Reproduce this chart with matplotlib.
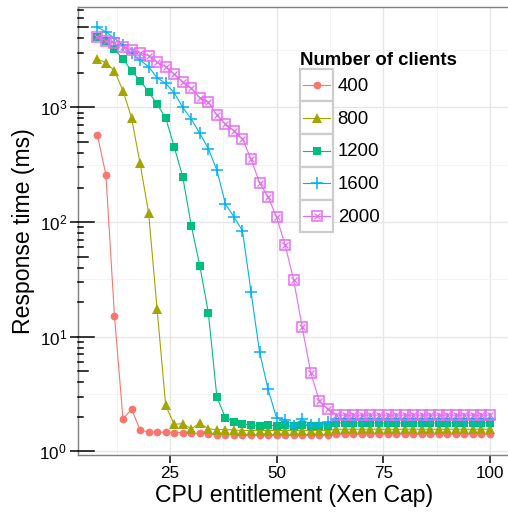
import matplotlib
matplotlib.use("Agg")
import matplotlib.pyplot as plt
from matplotlib.legend_handler import HandlerBase
from matplotlib.lines import Line2D
from matplotlib.patches import Rectangle
from matplotlib.ticker import FixedLocator, LogLocator, NullFormatter

plt.rcParams['font.family'] = ['Liberation Sans', 'DejaVu Sans']

# Datos: tiempo de respuesta (ms) vs. cap de CPU, por número de clientes
# ----------------------------------------------------------------------
cap = [8, 10, 12, 14, 16, 18, 20, 22, 24, 26, 28, 30, 32, 34, 36, 38, 40, 42, 44, 46,
       48, 50, 52, 54, 56, 58, 60, 62, 64, 66, 68, 70, 72, 74, 76, 78, 80, 82, 84, 86,
       88, 90, 92, 94, 96, 98, 100]

clientes = ['400', '800', '1200', '1600', '2000']

t400 = [573, 257, 15.2, 1.91, 2.34, 1.54, 1.47, 1.47, 1.47, 1.46, 1.46, 1.44, 1.44, 1.43,
        1.40, 1.40, 1.40, 1.40, 1.40, 1.40, 1.40, 1.40, 1.40, 1.40, 1.40, 1.40, 1.40, 1.40,
        1.41, 1.41, 1.41, 1.41, 1.41, 1.41, 1.41, 1.41, 1.41, 1.41, 1.41, 1.41, 1.41, 1.41,
        1.41, 1.41, 1.41, 1.41, 1.41]

t800 = [2640, 2450, 2085, 1395, 811, 325, 120, 17.3, 2.52, 1.72, 1.75, 1.57, 1.77, 1.57,
        1.55, 1.55, 1.54, 1.52, 1.52, 1.52, 1.52, 1.52, 1.52, 1.52, 1.52, 1.52, 1.52, 1.52,
        1.56, 1.56, 1.56, 1.56, 1.56, 1.56, 1.56, 1.56, 1.56, 1.56, 1.56, 1.56, 1.56, 1.56,
        1.56, 1.56, 1.56, 1.56, 1.56]

t1200 = [4100, 3790, 3210, 2640, 2085, 1706, 1368, 1062, 811, 453, 248, 93, 41.6, 16.2,
         2.98, 1.97, 1.80, 1.73, 1.70, 1.67, 1.69, 1.67, 1.69, 1.67, 1.69, 1.66, 1.68, 1.66,
         1.77, 1.77, 1.77, 1.77, 1.77, 1.77, 1.77, 1.77, 1.77, 1.77, 1.77, 1.77, 1.77, 1.77,
         1.77, 1.77, 1.77, 1.77, 1.77]

t1600 = [4980, 4560, 3990, 3490, 2960, 2585, 2260, 1811, 1618, 1341, 1000, 791, 593, 437,
         284, 144, 111, 84, 24.7, 7.36, 3.48, 1.95, 1.88, 1.68, 1.91, 1.70, 1.73, 1.79,
         1.93, 1.93, 1.93, 1.93, 1.93, 1.93, 1.93, 1.93, 1.93, 1.93, 1.93, 1.93, 1.93, 1.93,
         1.93, 1.93, 1.93, 1.93, 1.93]

t2000 = [4130, 3810, 3610, 3375, 3160, 2995, 2820, 2468, 2260, 1950, 1652, 1465, 1213, 1106,
         858, 716, 625, 530, 355, 220, 166, 110, 63, 31.2, 12.1, 4.86, 2.77, 2.33,
         2.07, 2.07, 2.07, 2.07, 2.07, 2.07, 2.07, 2.07, 2.07, 2.07, 2.07, 2.07, 2.07, 2.07,
         2.07, 2.07, 2.07, 2.07, 2.07]

colores = ['#F8766D', '#A3A500', '#00BF7D', '#00B0F6', '#E76BF3']
# ----------------------------------------------------------------------


# Caja gris de cada clave de la leyenda (estilo ggplot)
class CajaClave(HandlerBase):
    def create_artists(self, legend, orig_handle, xdescent, ydescent,
                       width, height, fontsize, trans):
        lineas = orig_handle if isinstance(orig_handle, tuple) else (orig_handle,)
        x0, y0 = -xdescent, -ydescent
        yc = y0 + height / 2
        caja = Rectangle((x0, y0), width, height, facecolor='white',
                         edgecolor='#cccccc', lw=1.6, transform=trans)
        base = lineas[0]
        seg = Line2D([x0 + 2, x0 + width - 2], [yc, yc], color=base.get_color(),
                     lw=base.get_linewidth(), transform=trans)
        artistas = [caja, seg]
        for l in lineas:
            artistas.append(Line2D([x0 + width / 2], [yc], linestyle='none',
                                   marker=l.get_marker(), markersize=l.get_markersize(),
                                   markerfacecolor=l.get_markerfacecolor(),
                                   markeredgecolor=l.get_markeredgecolor(),
                                   markeredgewidth=l.get_markeredgewidth(),
                                   transform=trans))
        return artistas


fig = plt.figure(figsize=(5.08, 5.12), dpi=100)
ax = fig.add_axes([0.1531, 0.1105, 0.850, 0.8758])

lw = 0.8
h400, = ax.plot(cap, t400, color=colores[0], lw=lw, marker='o', ms=5.6, mew=0)
h800, = ax.plot(cap, t800, color=colores[1], lw=lw, marker='^', ms=6.8, mew=0)
h1200, = ax.plot(cap, t1200, color=colores[2], lw=lw, marker='s', ms=6.0, mew=0)
h1600, = ax.plot(cap, t1600, color=colores[3], lw=lw, marker='+', ms=8.5, mew=1.1)
h2000, = ax.plot(cap, t2000, color=colores[4], lw=lw, marker='s', ms=6.5,
                 mfc='none', mec=colores[4], mew=1.1)
h2000x, = ax.plot(cap, t2000, linestyle='none', marker='x', ms=4.4,
                  mec=colores[4], mew=0.9)

# Ejes
ax.set_yscale('log')
ax.set_xlim(3.4, 104.6)
ax.set_ylim(10 ** -0.035, 10 ** 3.875)

ax.xaxis.set_major_locator(FixedLocator([25, 50, 75, 100]))
ax.xaxis.set_minor_locator(FixedLocator([12.5, 37.5, 62.5, 87.5]))
ax.yaxis.set_major_locator(LogLocator(base=10, numticks=10))
ax.yaxis.set_minor_locator(FixedLocator([10 ** (k + 0.5) for k in range(-1, 4)]))
ax.yaxis.set_minor_formatter(NullFormatter())

ax.tick_params(which='major', direction='out', length=5.8, width=1.1, color='black',
               labelsize=12.3, labelcolor='black', pad=2)
ax.tick_params(which='minor', length=0)

ax.grid(which='major', color='#e6e6e6', lw=1.0)
ax.grid(which='minor', color='#f2f2f2', lw=0.6)
ax.set_axisbelow(True)

for s in ax.spines.values():
    s.set_color('#7f7f7f')
    s.set_linewidth(1.0)

# Marcas logarítmicas por dentro del eje y (larga en 10^n, media en 5*10^n)
ancho_px = ax.get_position().width * fig.get_figwidth() * fig.dpi
for d in range(-1, 4):
    for m in range(1, 10):
        v = m * 10 ** d
        if not (10 ** -0.035 <= v <= 10 ** 3.875):
            continue
        largo = 16 if m == 1 else (10.7 if m == 5 else 5.3)
        ax.plot([0, largo / ancho_px], [v, v], color='black', lw=1.1,
                transform=ax.get_yaxis_transform(), clip_on=False, zorder=3)

ax.set_xlabel('CPU entitlement (Xen Cap)', fontsize=16.6, labelpad=2)
ax.set_ylabel('Response time (ms)', fontsize=16.6, labelpad=3)

# Leyenda
fs = 13.4
handles = [h400, h800, h1200, h1600, (h2000, h2000x)]
leg = ax.legend(handles, clientes, handler_map={Line2D: CajaClave(), tuple: CajaClave()},
                loc='upper left', bbox_to_anchor=(0.591, 0.899),
                bbox_transform=fig.transFigure, frameon=False, borderpad=0,
                borderaxespad=0, fontsize=fs, handlelength=1.76, handleheight=2.33,
                labelspacing=0, handletextpad=0.25, title='Number of clients',
                title_fontproperties={'weight': 'bold', 'size': fs},
                alignment='left')

fig.savefig('out.png', dpi=100)
